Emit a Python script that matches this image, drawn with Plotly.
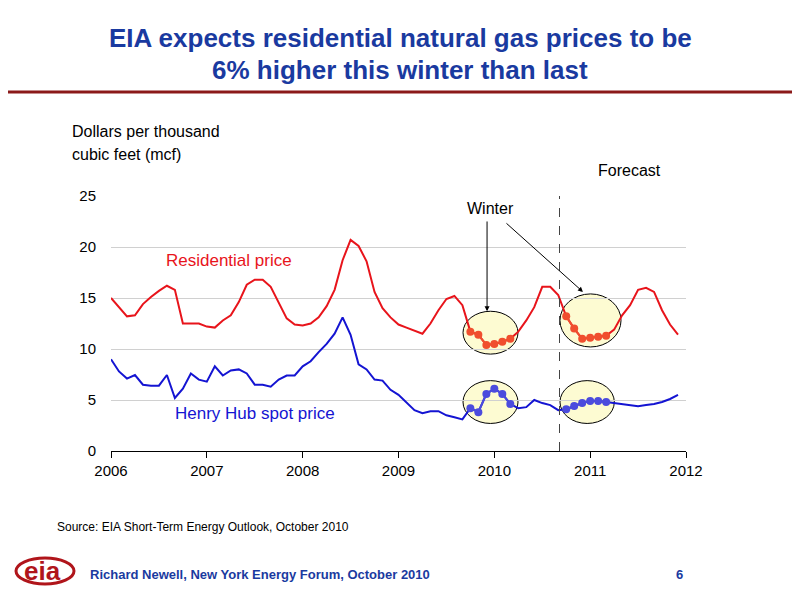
import plotly.graph_objects as go

months = [2006 + i/12 for i in range(72)]
residential = [15.0,14.1,13.2,13.3,14.4,15.1,15.7,16.2,15.8,12.5,12.5,12.5,
               12.2,12.1,12.8,13.3,14.6,16.3,16.8,16.8,16.1,14.6,13.0,12.4,
               12.3,12.5,13.1,14.2,15.8,18.7,20.7,20.1,18.6,15.6,14.0,13.1,
               12.4,12.1,11.8,11.5,12.5,13.8,14.9,15.2,14.3,11.7,11.4,10.4,
               10.5,10.7,11.0,11.7,12.8,14.1,16.1,16.1,15.3,13.2,12.0,11.0,
               11.1,11.2,11.3,11.9,13.3,14.3,15.8,16.0,15.6,13.8,12.4,11.4]
henry_hub = [9.0,7.8,7.1,7.45,6.5,6.4,6.4,7.45,5.2,6.1,7.6,7.0,
             6.8,8.3,7.4,7.9,8.0,7.6,6.5,6.5,6.3,7.0,7.4,7.4,
             8.3,8.8,9.7,10.5,11.5,13.1,11.4,8.5,8.0,7.0,6.9,6.0,
             5.5,4.7,4.0,3.7,3.9,3.9,3.5,3.3,3.1,4.2,3.8,5.6,
             6.1,5.6,4.6,4.2,4.3,5.0,4.7,4.5,4.0,4.1,4.4,4.7,
             4.9,4.9,4.8,4.7,4.6,4.5,4.4,4.5,4.6,4.8,5.1,5.5]
winter_idx = list(range(45, 51)) + list(range(57, 63))
year_ticks = [2006, 2007, 2008, 2009, 2010, 2011, 2012]

fig = go.Figure()
ellipses = [(2009.673, 2010.247, 9.5, 13.7), (2010.685, 2011.322, 10.2, 15.4),
            (2009.673, 2010.247, 2.7, 6.9), (2010.685, 2011.252, 2.7, 6.9)]
for x0, x1, y0, y1 in ellipses:
    fig.add_shape(type="circle", xref="x", yref="y", x0=x0, x1=x1, y0=y0, y1=y1,
                  fillcolor="#fdfbd2", line=dict(color="black", width=1), layer="below")

fig.add_trace(go.Scatter(x=months, y=residential, mode="lines",
                         line=dict(color="#e8141b", width=2), showlegend=False))
fig.add_trace(go.Scatter(x=months, y=henry_hub, mode="lines",
                         line=dict(color="#1414d2", width=2), showlegend=False))
for seg in (winter_idx[:6], winter_idx[6:]):
    fig.add_trace(go.Scatter(x=[months[i] for i in seg], y=[residential[i] for i in seg],
                             mode="lines+markers", line=dict(color="#f04e2e", width=2),
                             marker=dict(color="#f04e2e", size=8), showlegend=False))
    fig.add_trace(go.Scatter(x=[months[i] for i in seg], y=[henry_hub[i] for i in seg],
                             mode="lines+markers", line=dict(color="#4b4bdd", width=2),
                             marker=dict(color="#4b4bdd", size=8), showlegend=False))

fig.add_shape(type="line", xref="x", yref="y", x0=2010.68, x1=2010.68, y0=0, y1=26.3,
              line=dict(color="#444", width=1, dash="dash"))

fig.add_annotation(x=2009.924, y=13.7, ax=2009.924, ay=22.65, xref="x", yref="y",
                   axref="x", ayref="y", showarrow=True, arrowhead=2, arrowsize=1,
                   arrowwidth=1, arrowcolor="black", text="")
fig.add_annotation(x=2010.925, y=15.6, ax=2010.111, ay=22.45, xref="x", yref="y",
                   axref="x", ayref="y", showarrow=True, arrowhead=2, arrowsize=1,
                   arrowwidth=1, arrowcolor="black", text="")

fnt = "Liberation Sans, Arial, sans-serif"

def ptxt(x, y, s, size, color="black", xanchor="left"):
    fig.add_annotation(x=(x-111)/575, y=(451-y)/255, xref="paper", yref="paper",
                       text=s, showarrow=False, xanchor=xanchor, yanchor="middle",
                       font=dict(family=fnt, size=size, color=color))

ptxt(400, 38, "<b>EIA expects residential natural gas prices to be</b>", 26, "#1a3aa0", "center")
ptxt(400, 70, "<b>6% higher this winter than last</b>", 26, "#1a3aa0", "center")
ptxt(70, 131, "Dollars per thousand", 16)
ptxt(70, 155, "cubic feet (mcf)", 16)
ptxt(663, 171, "Forecast", 16, xanchor="right")
ptxt(490, 208, "Winter", 16, xanchor="center")
ptxt(164, 260, "Residential price", 17, "#e8141b")
ptxt(173, 413, "Henry Hub spot price", 17, "#1414d2")
ptxt(55, 527, "Source: EIA Short-Term Energy Outlook, October 2010", 12)
ptxt(88, 574, "<b>Richard Newell, New York Energy Forum, October 2010</b>", 13, "#1a3aa0")
ptxt(685, 574, "<b>6</b>", 13, "#1a3aa0", "right")
ptxt(22, 571, "<b>eia</b>", 26, "#b0151b")

fig.add_shape(type="line", xref="paper", yref="paper", x0=-111/575, x1=(800-111)/575,
              y0=(451-92)/255, y1=(451-92)/255, line=dict(color="#8b1a1a", width=3))
fig.add_shape(type="circle", xref="paper", yref="paper", x0=(16-111)/575, x1=(74-111)/575,
              y0=(451-584)/255, y1=(451-558)/255, line=dict(color="#b0151b", width=3))

fig.update_layout(
    width=800, height=600, margin=dict(l=103, r=122, t=188, b=157),
    plot_bgcolor="white", paper_bgcolor="white",
    font=dict(family=fnt, size=15, color="black"),
    xaxis=dict(range=[2006, 2012], tickvals=year_ticks, ticktext=[str(y) for y in year_ticks],
               showgrid=False, showline=True, linecolor="black", ticks="outside",
               ticklen=6, tickcolor="black", zeroline=False, tickfont=dict(size=15)),
    yaxis=dict(range=[0, 25], tickvals=[0, 5, 10, 15, 20, 25], showgrid=True,
               gridcolor="#d0d0d0", zeroline=False, showline=False, ticks="",
               tickfont=dict(size=15), ticklabelstandoff=14),
)
fig.write_html("out.html")
